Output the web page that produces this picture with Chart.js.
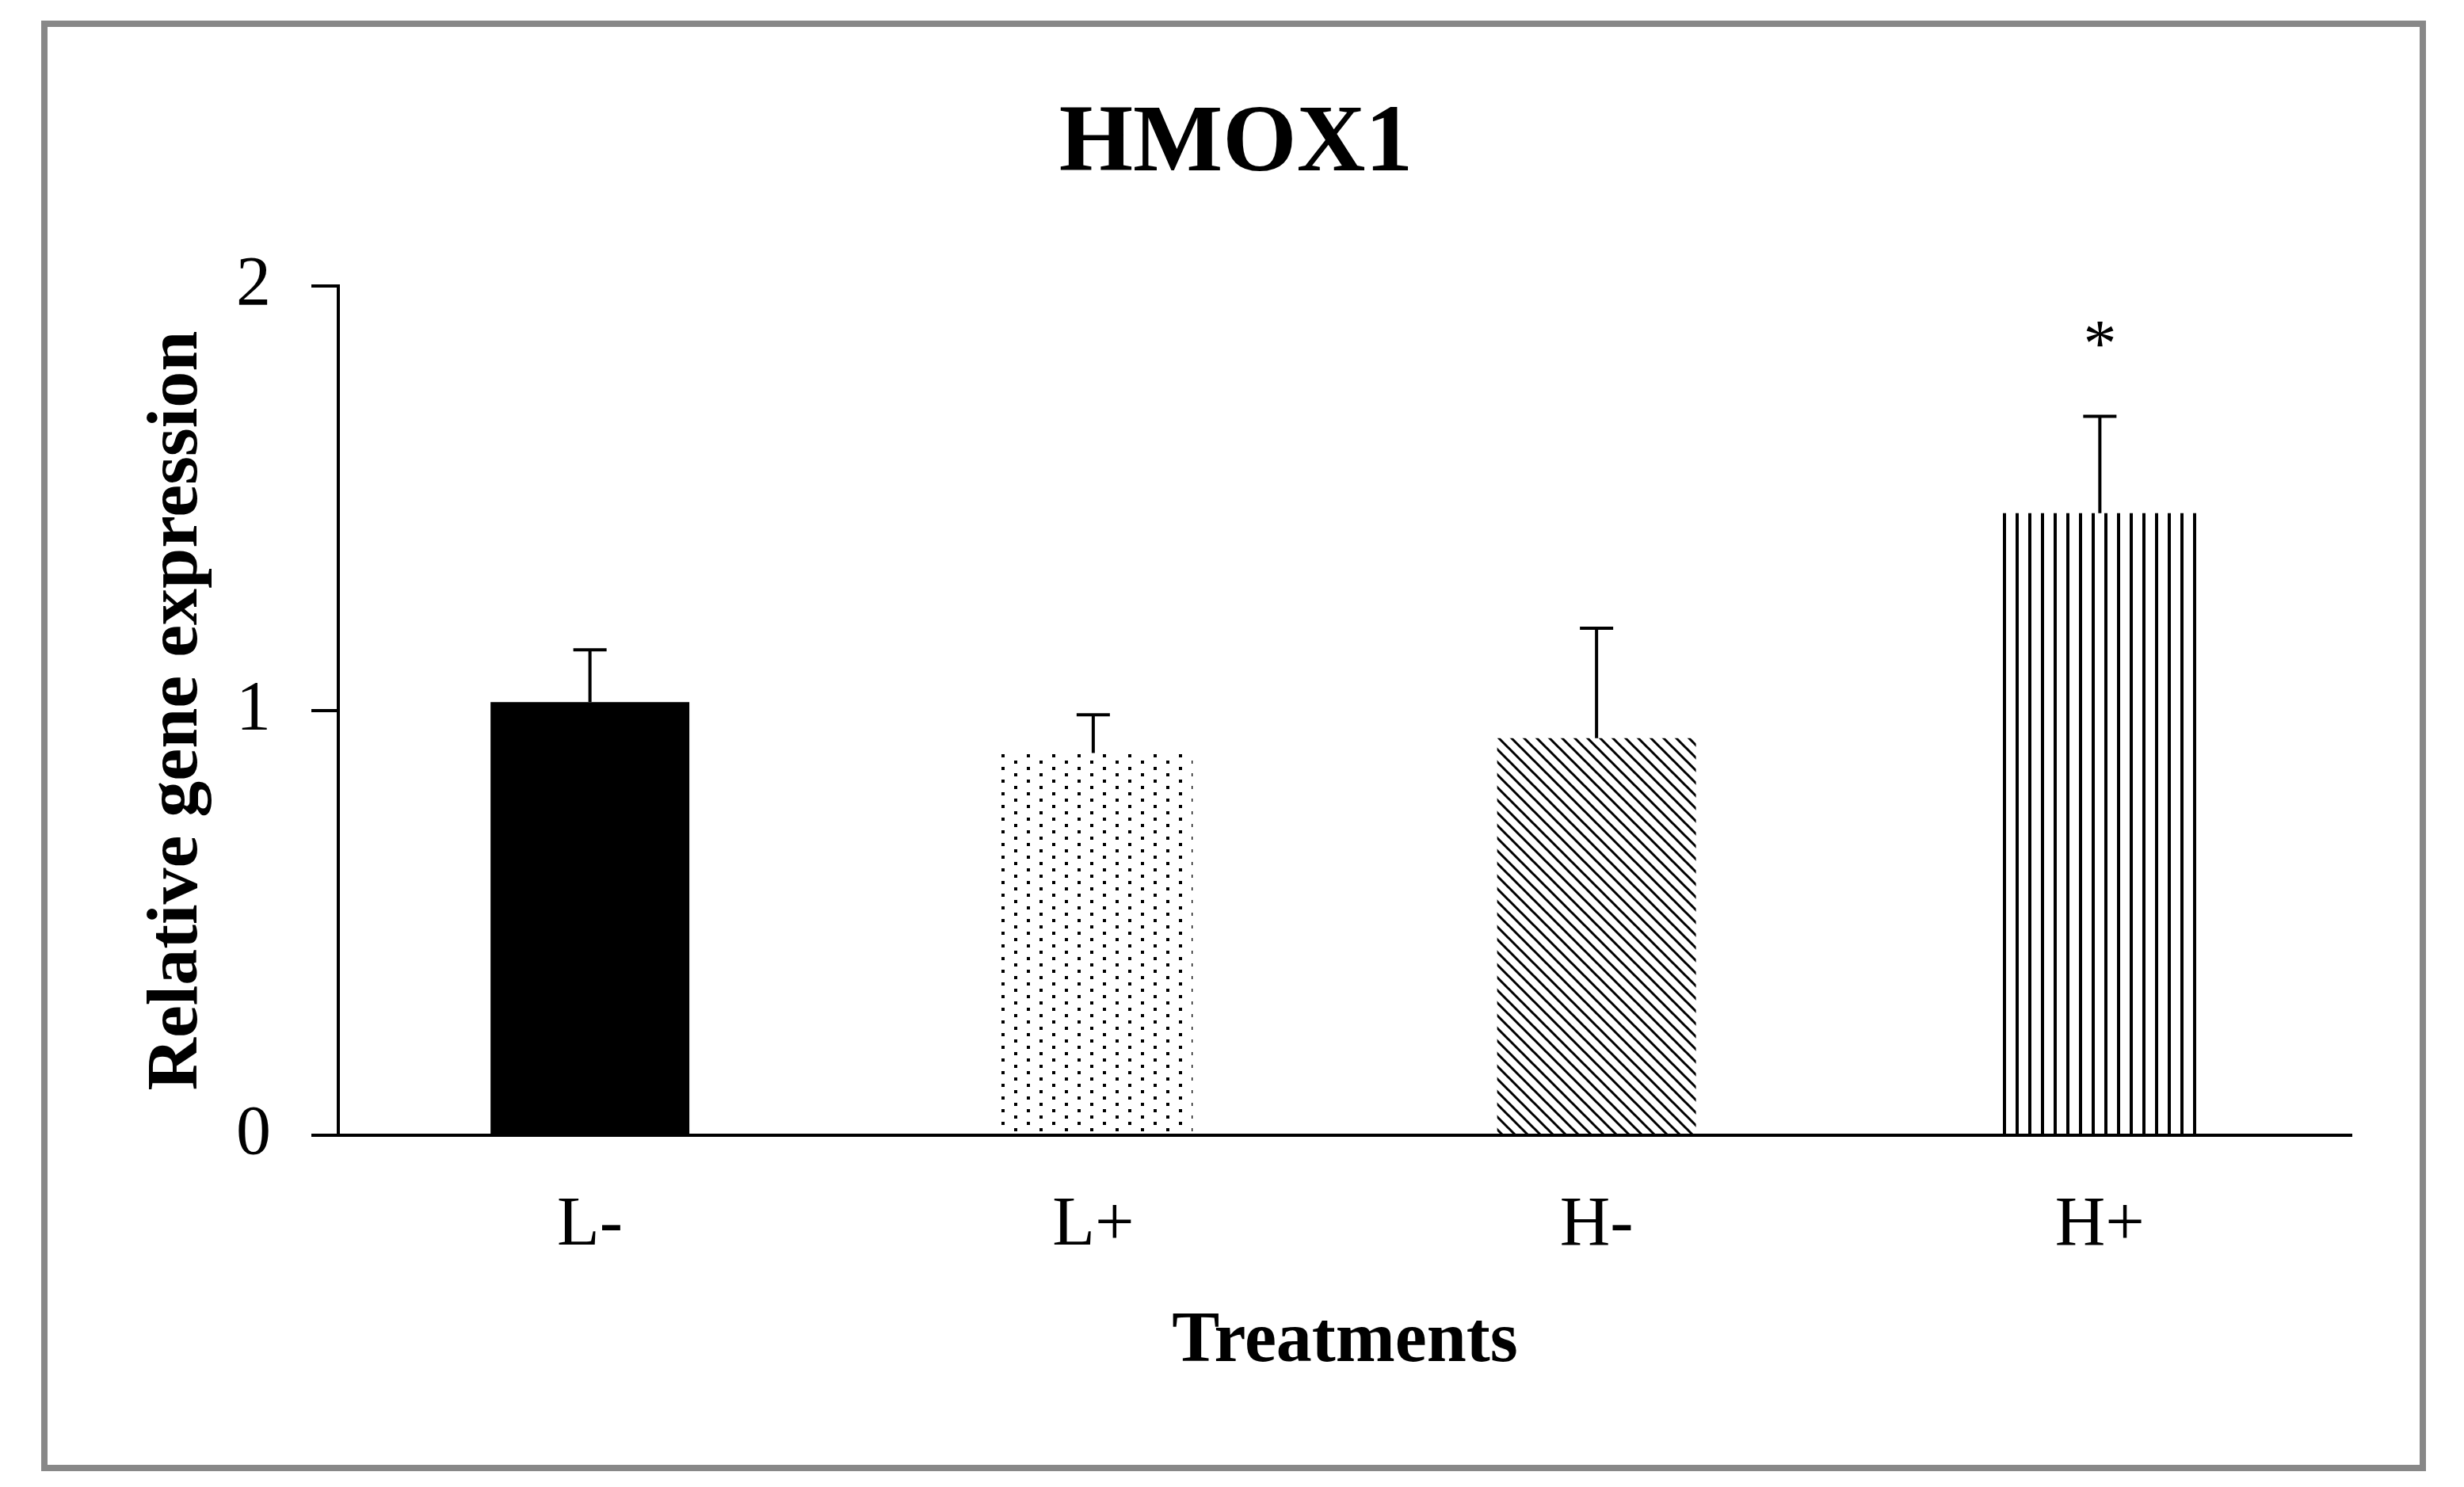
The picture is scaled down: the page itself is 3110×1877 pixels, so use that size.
<!DOCTYPE html>
<html>
<head>
<meta charset="utf-8">
<title>HMOX1</title>
<script src="https://cdn.jsdelivr.net/npm/chart.js@4.4.1/dist/chart.umd.min.js"></script>
<style>
  html, body { margin: 0; padding: 0; background: #fff; }
  canvas { display: block; }
</style>
</head>
<body>
<canvas id="grafica" width="3110" height="1877"></canvas>
<script>
const categorias = ["L-", "L+", "H-", "H+"];
const medias = [1.02, 0.9, 0.935, 1.465];
const errores = [0.123, 0.09, 0.259, 0.228];
const signif = ["", "", "", "*"];
const ticksY = [0, 1, 2];

const serif = "'Liberation Serif', 'Times New Roman', serif";

// tramas de relleno para cada barra
function trama(tipo) {
  const c = document.createElement("canvas");
  const g = c.getContext("2d");
  g.fillStyle = "#000";
  g.strokeStyle = "#000";
  if (tipo === "puntos") {
    c.width = 32; c.height = 16;
    g.fillRect(0, 0, 4, 4);
    g.fillRect(16, 8, 4, 4);
  } else if (tipo === "diagonal") {
    c.width = 16; c.height = 16;
    g.lineWidth = 3;
    g.beginPath();
    g.moveTo(-4, -4); g.lineTo(20, 20);
    g.moveTo(-4, 12); g.lineTo(4, 20);
    g.moveTo(12, -4); g.lineTo(20, 4);
    g.stroke();
  } else if (tipo === "vertical") {
    c.width = 16; c.height = 16;
    g.fillRect(0, 0, 4, 16);
  }
  return g.createPattern(c, "repeat");
}

const rellenos = ["#000000", trama("puntos"), trama("diagonal"), trama("vertical")];

const extras = {
  id: "extras",
  beforeDraw(chart) {
    const ctx = chart.ctx;
    ctx.save();
    ctx.fillStyle = "#fff";
    ctx.fillRect(0, 0, chart.width, chart.height);
    ctx.strokeStyle = "#888888";
    ctx.lineWidth = 8;
    ctx.strokeRect(56, 30, 3002, 1823);
    ctx.restore();
  },
  afterDatasetsDraw(chart) {
    const ctx = chart.ctx;
    const y = chart.scales.y;
    const meta = chart.getDatasetMeta(0);
    ctx.save();
    ctx.strokeStyle = "#000";
    ctx.fillStyle = "#000";
    ctx.lineWidth = 4;
    meta.data.forEach((bar, i) => {
      const tope = y.getPixelForValue(medias[i] + errores[i]);
      ctx.beginPath();
      ctx.moveTo(bar.x, bar.y);
      ctx.lineTo(bar.x, tope);
      ctx.moveTo(bar.x - 21, tope);
      ctx.lineTo(bar.x + 21, tope);
      ctx.stroke();
      if (signif[i]) {
        ctx.font = "84px " + serif;
        ctx.textAlign = "center";
        ctx.textBaseline = "middle";
        ctx.fillText(signif[i], bar.x, tope - 86);
      }
    });
    ctx.restore();
  },
};

Chart.defaults.font.family = serif;
Chart.defaults.color = "#000";

const grafica = document.getElementById("grafica").getContext("2d");

const myChart = new Chart(grafica, {
  type: "bar",
  data: {
    labels: categorias,
    datasets: [
      {
        label: "HMOX1",
        data: medias,
        backgroundColor: rellenos,
        borderWidth: 0,
        barPercentage: 0.395,
        categoryPercentage: 1.0,
      },
    ],
  },
  options: {
    responsive: false,
    devicePixelRatio: 1,
    animation: false,
    layout: { padding: { left: 152, right: 142, top: 0, bottom: 0 } },
    plugins: {
      legend: { display: false },
      tooltip: { enabled: false },
      title: {
        display: true,
        text: "HMOX1",
        font: { size: 120, weight: "bold", family: serif },
        color: "#000",
        padding: { top: 112, bottom: 105 },
      },
    },
    scales: {
      x: {
        grid: { display: false, drawTicks: false },
        border: { display: true, color: "#000", width: 4 },
        ticks: { font: { size: 88 }, padding: 62, color: "#000" },
        title: {
          display: true,
          text: "Treatments",
          font: { size: 90, weight: "bold" },
          color: "#000",
          padding: { top: 0, bottom: 128 },
        },
        afterFit: (s) => { s.height = 444; },
      },
      y: {
        min: 0,
        max: 2,
        afterBuildTicks: (s) => { s.ticks = ticksY.map((v) => ({ value: v })); },
        grid: {
          display: true,
          drawOnChartArea: false,
          drawTicks: true,
          tickLength: 34,
          color: "#000",
          lineWidth: 4,
        },
        border: { display: true, color: "#000", width: 4 },
        ticks: { font: { size: 88 }, padding: 51, color: "#000" },
        title: {
          display: true,
          text: "Relative gene expression",
          font: { size: 92, weight: "bold" },
          color: "#000",
          padding: { top: 17, bottom: 0 },
        },
        afterFit: (s) => { s.width = 275; },
      },
    },
  },
  plugins: [extras],
});
console.log(myChart.chartArea);
</script>
</body>
</html>
